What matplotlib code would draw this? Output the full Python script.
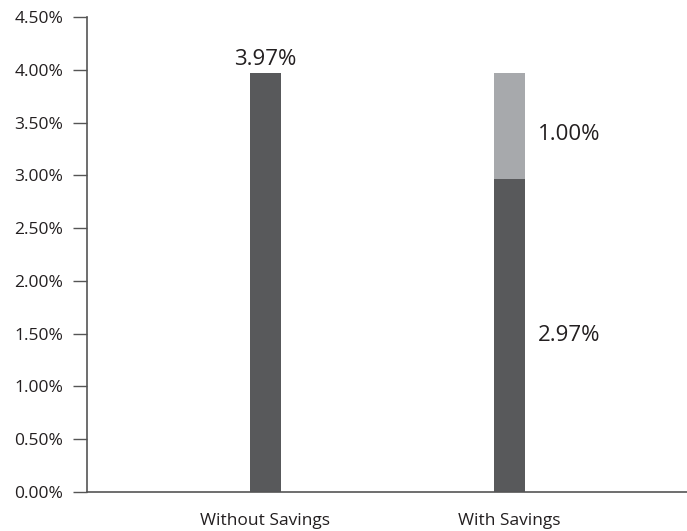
import matplotlib
matplotlib.use("Agg")
import matplotlib.pyplot as plt

# data
scenarios = ["Without Savings", "With Savings"]
base = [3.97, 2.97]
savings = [0.0, 1.00]
yticks = [0, 0.5, 1.0, 1.5, 2.0, 2.5, 3.0, 3.5, 4.0, 4.5]

dark = "#58595b"
light = "#a7a9ac"
plt.rcParams["font.family"] = ["Open Sans", "DejaVu Sans"]

fig = plt.figure(figsize=(6.87, 5.31), dpi=100)
ax = fig.add_axes([87 / 687, 39 / 531, 600 / 687, 475 / 531])

x = [0, 1]
ax.bar(x, base, width=0.127, color=dark)
ax.bar(x, savings, width=0.127, bottom=base, color=light)

ax.set_xlim(-0.73, 1.727)
ax.set_ylim(0, 4.5)
ax.set_yticks(yticks)
ax.set_yticklabels(["%.2f%%" % v for v in yticks], fontsize=12.5, color="#231f20")
ax.set_xticks(x)
ax.set_xticklabels(scenarios, fontsize=12.5, color="#231f20")
ax.tick_params(axis="x", length=0, pad=15)
ax.tick_params(axis="y", length=10, width=1, color="#555555", pad=7)

for s in ["top", "right"]:
    ax.spines[s].set_visible(False)
for s in ["left", "bottom"]:
    ax.spines[s].set_color("#555555")
    ax.spines[s].set_linewidth(1.2)

# value labels
ax.text(x[0], base[0] + 0.03, "%.2f%%" % base[0], ha="center", va="bottom",
        fontsize=16, color="#231f20")
ax.text(x[1] + 0.115, base[1] + savings[1] / 2 - 0.08, "%.2f%%" % savings[1],
        ha="left", va="center", fontsize=16, color="#231f20")
ax.text(x[1] + 0.115, base[1] / 2, "%.2f%%" % base[1],
        ha="left", va="center", fontsize=16, color="#231f20")

fig.savefig("out.png", dpi=100)
